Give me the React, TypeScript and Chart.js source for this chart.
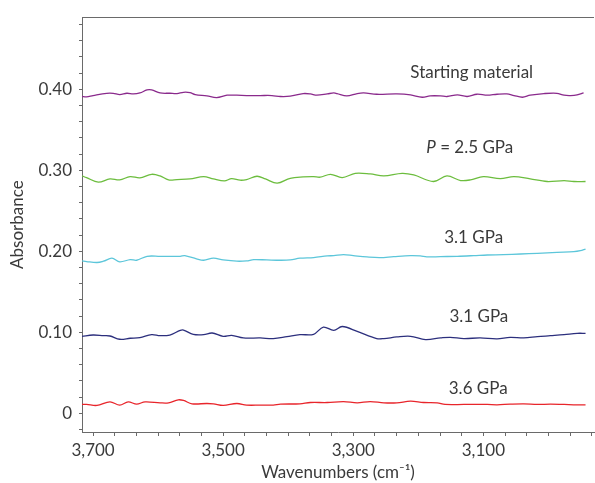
import React, { useEffect, useRef } from 'react';
import { Chart, registerables } from 'chart.js';

Chart.register(...registerables);

// ---- data: [wavenumber (cm-1), absorbance] ----
const startingMaterial: number[][] = [
  [3717, 0.3911], [3710, 0.3907], [3700, 0.3923], [3679, 0.3951], [3669, 0.3951],
  [3659, 0.3935], [3648, 0.3951], [3638, 0.3943], [3628, 0.3955], [3617, 0.3992],
  [3610, 0.3992], [3597, 0.3955], [3582, 0.3951], [3571, 0.3947], [3561, 0.3963],
  [3551, 0.3959], [3543, 0.3935], [3525, 0.3919], [3510, 0.3898], [3494, 0.3927],
  [3479, 0.3927], [3464, 0.3923], [3443, 0.3923], [3425, 0.3923], [3412, 0.3911],
  [3397, 0.3915], [3377, 0.3947], [3366, 0.3943], [3356, 0.3927], [3340, 0.3943],
  [3330, 0.3955], [3325, 0.3947], [3310, 0.3919], [3294, 0.3947], [3284, 0.3955],
  [3264, 0.3939], [3233, 0.3943], [3212, 0.3931], [3194, 0.3902], [3182, 0.3919],
  [3166, 0.3919], [3156, 0.3911], [3140, 0.3931], [3125, 0.3911], [3110, 0.3939],
  [3094, 0.3927], [3079, 0.3939], [3064, 0.3943], [3053, 0.3923], [3040, 0.3902],
  [3028, 0.3927], [3007, 0.3947], [2987, 0.3951], [2976, 0.3927], [2966, 0.3923],
  [2956, 0.3931], [2946, 0.3955],
];

const p25: number[][] = [
  [3717, 0.2931], [3710, 0.2910], [3692, 0.2854], [3674, 0.2894], [3659, 0.2882],
  [3643, 0.2923], [3628, 0.2907], [3610, 0.2951], [3597, 0.2931], [3584, 0.2882],
  [3571, 0.2886], [3551, 0.2894], [3530, 0.2923], [3515, 0.2894], [3498, 0.2870],
  [3487, 0.2898], [3474, 0.2878], [3464, 0.2886], [3448, 0.2927], [3435, 0.2894],
  [3417, 0.2841], [3397, 0.2902], [3377, 0.2919], [3361, 0.2923], [3351, 0.2915],
  [3335, 0.2951], [3317, 0.2910], [3297, 0.2963], [3274, 0.2955], [3253, 0.2931],
  [3225, 0.2963], [3207, 0.2943], [3177, 0.2862], [3156, 0.2931], [3135, 0.2874],
  [3120, 0.2882], [3100, 0.2923], [3074, 0.2898], [3053, 0.2923], [3028, 0.2894],
  [3002, 0.2862], [2976, 0.2874], [2961, 0.2862], [2943, 0.2862],
];

const p31a: number[][] = [
  [3717, 0.1882], [3710, 0.1874], [3694, 0.1862], [3684, 0.1878], [3671, 0.1915],
  [3659, 0.1870], [3643, 0.1898], [3633, 0.1890], [3617, 0.1939], [3597, 0.1939],
  [3566, 0.1939], [3559, 0.1947], [3541, 0.1907], [3530, 0.1890], [3515, 0.1915],
  [3500, 0.1894], [3479, 0.1878], [3464, 0.1882], [3453, 0.1898], [3433, 0.1894],
  [3412, 0.1890], [3397, 0.1894], [3382, 0.1915], [3361, 0.1923], [3340, 0.1943],
  [3330, 0.1947], [3315, 0.1959], [3300, 0.1947], [3279, 0.1931], [3259, 0.1923],
  [3238, 0.1935], [3212, 0.1947], [3197, 0.1943], [3187, 0.1931], [3166, 0.1935],
  [3140, 0.1939], [3115, 0.1947], [3094, 0.1955], [3069, 0.1959], [3043, 0.1967],
  [3017, 0.1976], [2987, 0.1988], [2961, 0.1996], [2951, 0.2008], [2943, 0.2028],
];

const p31b: number[][] = [
  [3717, 0.0951], [3700, 0.0967], [3684, 0.0959], [3674, 0.0955], [3659, 0.0915],
  [3643, 0.0927], [3628, 0.0935], [3610, 0.0972], [3597, 0.0959], [3582, 0.0967],
  [3566, 0.1024], [3561, 0.1028], [3546, 0.0976], [3530, 0.0972], [3517, 0.0992],
  [3500, 0.0951], [3487, 0.0963], [3469, 0.0931], [3443, 0.0931], [3423, 0.0923],
  [3402, 0.0947], [3382, 0.0972], [3361, 0.0976], [3346, 0.1065], [3330, 0.1024],
  [3317, 0.1072], [3294, 0.1012], [3264, 0.0923], [3253, 0.0923], [3233, 0.0943],
  [3212, 0.0951], [3189, 0.0911], [3166, 0.0931], [3151, 0.0939], [3130, 0.0923],
  [3105, 0.0931], [3079, 0.0919], [3059, 0.0939], [3038, 0.0931], [3017, 0.0947],
  [2997, 0.0959], [2976, 0.0972], [2956, 0.0988], [2943, 0.0988],
];

const p36: number[][] = [
  [3717, 0.0110], [3710, 0.0110], [3694, 0.0098], [3674, 0.0142], [3659, 0.0102],
  [3646, 0.0142], [3633, 0.0114], [3620, 0.0142], [3597, 0.0130], [3584, 0.0130],
  [3569, 0.0167], [3561, 0.0159], [3548, 0.0118], [3525, 0.0122], [3515, 0.0118],
  [3500, 0.0098], [3479, 0.0122], [3464, 0.0102], [3443, 0.0102], [3423, 0.0102],
  [3412, 0.0114], [3382, 0.0118], [3366, 0.0134], [3340, 0.0134], [3315, 0.0146],
  [3294, 0.0130], [3274, 0.0146], [3253, 0.0130], [3233, 0.0130], [3212, 0.0150],
  [3192, 0.0134], [3171, 0.0130], [3159, 0.0110], [3130, 0.0110], [3094, 0.0110],
  [3079, 0.0106], [3059, 0.0114], [3038, 0.0118], [3017, 0.0110], [2997, 0.0114],
  [2976, 0.0110], [2956, 0.0106], [2943, 0.0106],
];

const seriesNames = ['Starting material', 'P = 2.5 GPa', '3.1 GPa (a)', '3.1 GPa (b)', '3.6 GPa'];
const seriesData = [startingMaterial, p25, p31a, p31b, p36];
const seriesColors = ['#8a2a8c', '#6cbd3e', '#5cc6da', '#2c2f7d', '#e8252b'];

// curve labels: [italic prefix, text, wavenumber, absorbance]
const curveLabels: [string, string, number, number][] = [
  ['', 'Starting material', 3118, 0.4207],
  ['P', ' = 2.5 GPa', 3121, 0.3285],
  ['', '3.1 GPa', 3115, 0.2171],
  ['', '3.1 GPa', 3107, 0.1195],
  ['', '3.6 GPa', 3108, 0.0305],
];

const xLabelValues = [3700, 3500, 3300, 3100];
const yLabelValues = [0, 0.1, 0.2, 0.3, 0.4];
const X_MIN = 2930;
const X_MAX = 3717;
const Y_MIN = -0.023;
const Y_MAX = 0.489;

const FONT = 'Lato, "Open Sans", sans-serif';
const TEXT = '#3a3a3a';
const AXIS = '#6a6a6a';
const LABEL_SIZE = 17;

const labelPlugin = {
  id: 'curveLabels',
  afterDatasetsDraw(chart: any) {
    const ctx = chart.ctx;
    const xs = chart.scales.x;
    const ys = chart.scales.y;
    ctx.save();
    ctx.fillStyle = TEXT;
    ctx.textBaseline = 'middle';
    ctx.textAlign = 'left';
    for (const [it, txt, w, a] of curveLabels) {
      const cx = xs.getPixelForValue(w);
      const cy = ys.getPixelForValue(a);
      ctx.font = `italic ${LABEL_SIZE}px ${FONT}`;
      const w1 = it ? ctx.measureText(it).width : 0;
      ctx.font = `${LABEL_SIZE}px ${FONT}`;
      const w2 = ctx.measureText(txt).width;
      let x0 = cx - (w1 + w2) / 2;
      if (it) {
        ctx.font = `italic ${LABEL_SIZE}px ${FONT}`;
        ctx.fillText(it, x0, cy);
        x0 += w1;
        ctx.font = `${LABEL_SIZE}px ${FONT}`;
      }
      ctx.fillText(txt, x0, cy);
    }
    // top frame line
    const ca = chart.chartArea;
    ctx.strokeStyle = AXIS;
    ctx.lineWidth = 1;
    ctx.beginPath();
    ctx.moveTo(ca.left, Math.round(ca.top) + 0.5);
    ctx.lineTo(ca.right, Math.round(ca.top) + 0.5);
    ctx.stroke();
    ctx.restore();
  },
};

export default function App() {
  const ref = useRef<HTMLCanvasElement>(null);
  useEffect(() => {
    const xTicks: number[] = [];
    for (let i = 1; i * 100 / 3 + 2900 <= X_MAX; i++) {
      const v = 2900 + (i * 100) / 3;
      if (v > X_MIN) xTicks.push(v);
    }
    const yTicks: number[] = [];
    for (let i = -1; i <= 24; i++) yTicks.push(Math.round(i * 2) / 100);

    const chart = new Chart(ref.current as HTMLCanvasElement, {
      type: 'line',
      data: {
        datasets: seriesData.map((d, i) => ({
          label: seriesNames[i],
          data: d.map((p) => ({ x: p[0], y: p[1] })),
          borderColor: seriesColors[i],
          backgroundColor: seriesColors[i],
          borderWidth: 1.3,
          pointRadius: 0,
          tension: 0.35,
          fill: false,
        })),
      },
      options: {
        responsive: false,
        animation: false,
        devicePixelRatio: 1,
        layout: { padding: { top: 13, right: 1, bottom: 0, left: 0 } },
        plugins: { legend: { display: false }, tooltip: { enabled: false } },
        scales: {
          x: {
            type: 'linear',
            reverse: true,
            min: X_MIN,
            max: X_MAX,
            afterFit: (s: any) => { s.height = 51; },
            afterBuildTicks: (s: any) => { s.ticks = xTicks.map((v) => ({ value: v })); },
            border: { display: true, color: AXIS, width: 1 },
            grid: { display: true, drawOnChartArea: false, drawTicks: true, tickLength: 4, color: AXIS },
            ticks: {
              autoSkip: false,
              maxRotation: 0,
              minRotation: 0,
              padding: 4,
              color: TEXT,
              font: { family: FONT, size: 17 },
              callback: (v: any) => {
                const n = Number(v);
                const hit = xLabelValues.find((t) => Math.abs(t - n) < 1e-6);
                return hit !== undefined ? hit.toLocaleString('en-US') : '';
              },
            },
            title: {
              display: true,
              text: 'Wavenumbers (cm⁻¹)',
              color: TEXT,
              font: { family: FONT, size: 17 },
              padding: { top: 0, bottom: 0 },
            },
          },
          y: {
            type: 'linear',
            min: Y_MIN,
            max: Y_MAX,
            afterFit: (s: any) => { s.width = 82; },
            afterBuildTicks: (s: any) => { s.ticks = yTicks.map((v) => ({ value: v })); },
            border: { display: true, color: AXIS, width: 1 },
            grid: { display: true, drawOnChartArea: false, drawTicks: true, tickLength: 3, color: AXIS },
            ticks: {
              autoSkip: false,
              padding: 7,
              color: TEXT,
              font: { family: FONT, size: 17 },
              callback: (v: any) => {
                const n = Number(v);
                const hit = yLabelValues.find((t) => Math.abs(t - n) < 1e-6);
                if (hit === undefined) return '';
                return hit === 0 ? '0' : hit.toFixed(2);
              },
            },
            title: {
              display: true,
              text: 'Absorbance',
              color: TEXT,
              font: { family: FONT, size: 17 },
              padding: { top: 7, bottom: 4 },
            },
          },
        },
      },
      plugins: [labelPlugin],
    } as any);
    return () => chart.destroy();
  }, []);

  return (
    <div style={{ position: 'absolute', left: 0, top: 0, width: 595, height: 483, background: '#fff' }}>
      <canvas ref={ref} width={595} height={483} style={{ display: 'block' }} />
    </div>
  );
}
